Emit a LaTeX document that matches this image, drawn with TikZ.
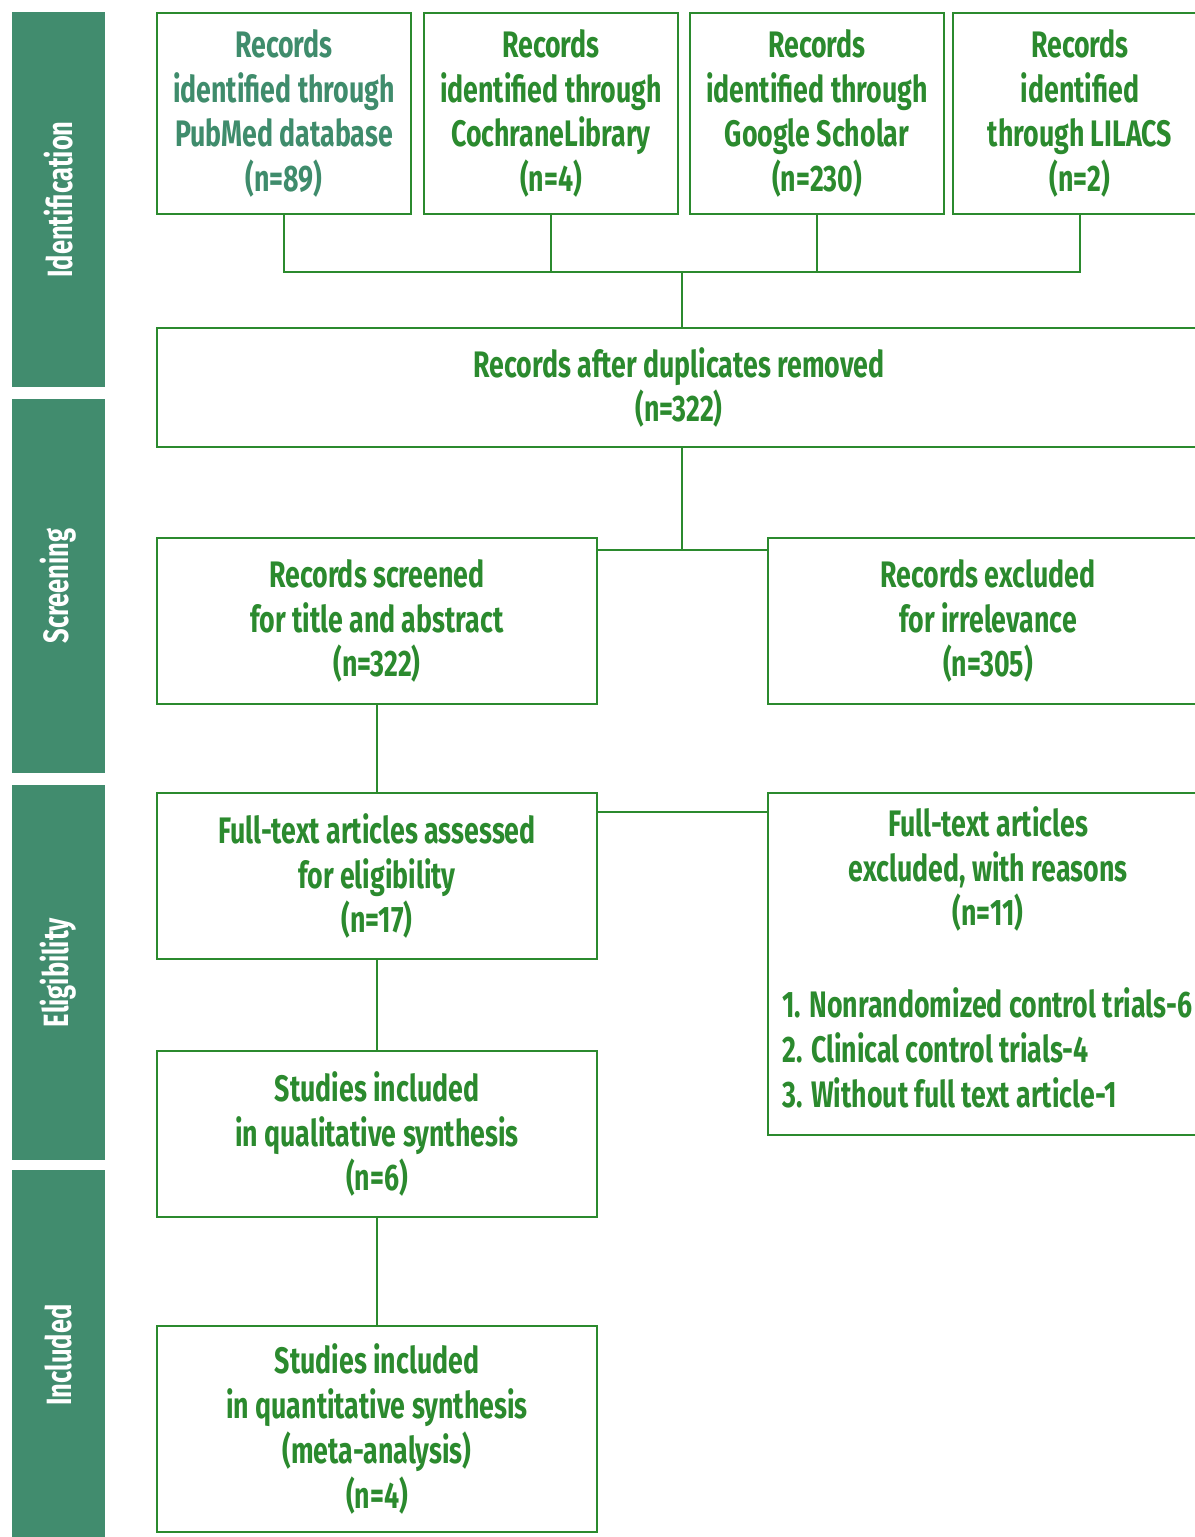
\documentclass[tikz,border=0pt]{standalone}
\usepackage{fontspec}
\setmainfont[FakeStretch=0.725]{Fira Sans}
\definecolor{bandgreen}{HTML}{418C6E}
\definecolor{boxgreen}{HTML}{2B8A2E}
\definecolor{tealtext}{HTML}{3F8C6C}
\tikzset{
  stage/.style={rotate=90, fill=bandgreen, minimum height=1.86cm, inner sep=0pt,
    text=white, font=\bfseries\fontsize{20}{24}\selectfont},
  flowbox/.style={draw=boxgreen, line width=1.4pt, text=boxgreen, align=center,
    inner sep=0pt, font=\bfseries\fontsize{21}{25.5}\selectfont},
  topbox/.style={flowbox, minimum width=5.08cm, minimum height=4.02cm},
  halfbox/.style={flowbox, minimum width=8.8cm, minimum height=3.32cm},
  link/.style={draw=boxgreen, line width=1.1pt}
}
\begin{document}
\begin{tikzpicture}[x=0.02cm, y=-0.02cm]
    \useasboundingbox (0,0) rectangle (1195,1537);

    % Stages
    \node[stage, minimum width=7.5cm]  (ident) at (58.5,199.5) {Identification};
    \node[stage, minimum width=7.48cm] (scrn)  at (58.5,586)   {Screening};
    \node[stage, minimum width=7.5cm]  (elig)  at (58.5,972.5) {Eligibility};
    \node[stage, minimum width=7.4cm]  (incl)  at (58.5,1355)  {Included};

    % Sources
    \node[topbox, text=tealtext] (pub) at (284,113.5) {Records\\identified through\\PubMed database\\(n=89)};
    \node[topbox] (coch) at (551,113.5) {Records\\identified through\\CochraneLibrary\\(n=4)};
    \node[topbox] (gs)   at (817,113.5) {Records\\identified through\\Google Scholar\\(n=230)};
    \node[topbox] (lil)  at (1080,113.5) {Records\\identified\\through LILACS\\(n=2)};

    % Screening
    \node[flowbox, minimum width=20.88cm, minimum height=2.38cm] (dup) at (679,387.5)
        {Records after duplicates removed\\(n=322)};
    \node[halfbox] (scr) at (377,621) {Records screened\\for title and abstract\\(n=322)};
    \node[halfbox] (irr) at (988,621) {Records excluded\\for irrelevance\\(n=305)};

    % Eligibility
    \node[halfbox] (ft) at (377,876) {Full-text articles assessed\\for eligibility\\(n=17)};
    \node[flowbox, minimum width=8.8cm, minimum height=6.84cm] (fx) at (988,964) {};
    \node[text=boxgreen, align=center, font=\bfseries\fontsize{21}{25.5}\selectfont] (fxhead)
        at (988,869) {Full-text articles\\excluded, with reasons\\(n=11)};
    \node[text=boxgreen, align=left, anchor=west, inner sep=0pt,
        font=\bfseries\fontsize{21}{25.5}\selectfont] (fxlist) at (782,1048)
        {1. Nonrandomized control trials-6\\2. Clinical control trials-4\\3. Without full text article-1};

    % Included
    \node[halfbox] (qual) at (377,1134) {Studies included\\in qualitative synthesis\\(n=6)};
    \node[flowbox, minimum width=8.8cm, minimum height=4.12cm] (quant) at (377,1429)
        {Studies included\\in quantitative synthesis\\(meta-analysis)\\(n=4)};

    % Connectors
    \coordinate (join) at (682,272);
    \draw[link] (pub.south) |- (join);
    \draw[link] (coch.south) |- (join);
    \draw[link] (gs.south) |- (join);
    \draw[link] (lil.south) |- (join);
    \draw[link] (join) -- (join |- dup.north);

    \coordinate (split) at (682,550);
    \draw[link] (split |- dup.south) -- (split);
    \draw[link] (split -| scr.east) -- (split -| irr.west);

    \draw[link] (scr.south) -- (ft.north);
    \path (ft.north east) ++(0,20) coordinate (ftx);
    \draw[link] (ftx) -- (ftx -| fx.west);
    \draw[link] (ft.south) -- (qual.north);
    \draw[link] (qual.south) -- (quant.north);
\end{tikzpicture}
\end{document}
